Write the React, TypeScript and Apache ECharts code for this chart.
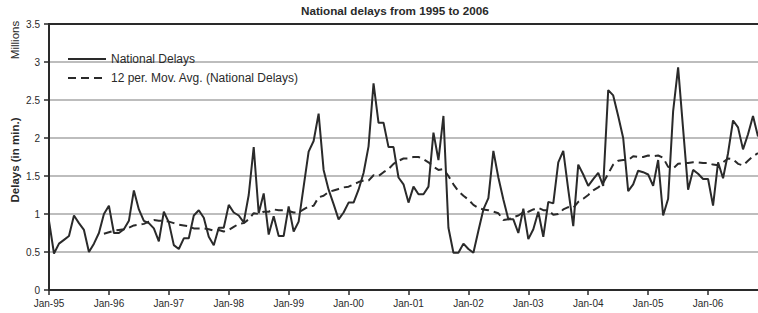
import React, { useEffect, useRef } from "react";
import * as echarts from "echarts";

const years = ["95", "96", "97", "98", "99", "00", "01", "02", "03", "04", "05", "06"];
const months = ["Jan", "Feb", "Mar", "Apr", "May", "Jun", "Jul", "Aug", "Sep", "Oct", "Nov", "Dec"];
const tickLabels = ["Jan-95", "Jan-96", "Jan-97", "Jan-98", "Jan-99", "Jan-00", "Jan-01", "Jan-02", "Jan-03", "Jan-04", "Jan-05", "Jan-06"];

// National delays (millions of minutes), monthly
const delays1995 = [0.91, 0.48, 0.61, 0.66, 0.71, 0.98, 0.88, 0.79, 0.5, 0.61, 0.75, 1.0];
const delays1996 = [1.11, 0.75, 0.75, 0.8, 0.91, 1.31, 1.06, 0.91, 0.88, 0.81, 0.64, 1.03];
const delays1997 = [0.89, 0.59, 0.54, 0.68, 0.68, 0.98, 1.05, 0.95, 0.7, 0.59, 0.82, 0.82];
const delays1998 = [1.12, 1.02, 0.98, 0.89, 1.25, 1.88, 1.01, 1.27, 0.73, 0.97, 0.71, 0.71];
const delays1999 = [1.1, 0.77, 0.9, 1.36, 1.82, 1.96, 2.32, 1.58, 1.32, 1.13, 0.93, 1.02];
const delays2000 = [1.15, 1.15, 1.32, 1.54, 1.89, 2.72, 2.2, 2.2, 1.88, 1.88, 1.48, 1.39];
const delays2001 = [1.15, 1.36, 1.26, 1.26, 1.36, 2.07, 1.71, 2.29, 0.82, 0.49, 0.49, 0.61];
const delays2002 = [0.54, 0.49, 0.78, 1.06, 1.21, 1.83, 1.48, 1.19, 0.93, 0.93, 0.75, 1.07];
const delays2003 = [0.67, 0.8, 1.03, 0.7, 1.16, 1.14, 1.68, 1.83, 1.32, 0.84, 1.65, 1.52];
const delays2004 = [1.37, 1.46, 1.54, 1.37, 2.63, 2.56, 2.29, 2.0, 1.3, 1.39, 1.57, 1.55];
const delays2005 = [1.52, 1.37, 1.71, 0.98, 1.2, 2.35, 2.93, 2.12, 1.32, 1.58, 1.53, 1.46];
const delays2006 = [1.46, 1.11, 1.68, 1.47, 1.8, 2.23, 2.14, 1.85, 2.05, 2.29, 2.02];

// 12 per. moving average
const avg1995 = [null, null, null, null, null, null, null, null, null, null, null, 0.74];
const avg1996 = [0.76, 0.78, 0.79, 0.8, 0.82, 0.85, 0.86, 0.87, 0.9, 0.92, 0.91, 0.91];
const avg1997 = [0.9, 0.88, 0.86, 0.85, 0.84, 0.81, 0.81, 0.81, 0.8, 0.78, 0.79, 0.77];
const avg1998 = [0.79, 0.83, 0.87, 0.88, 0.93, 1.01, 1.0, 1.03, 1.03, 1.06, 1.05, 1.05];
const avg1999 = [1.04, 1.02, 1.02, 1.06, 1.1, 1.11, 1.22, 1.24, 1.29, 1.31, 1.33, 1.35];
const avg2000 = [1.36, 1.39, 1.42, 1.44, 1.44, 1.51, 1.5, 1.55, 1.59, 1.66, 1.7, 1.73];
const avg2001 = [1.73, 1.75, 1.75, 1.72, 1.68, 1.62, 1.58, 1.59, 1.5, 1.39, 1.3, 1.24];
const avg2002 = [1.19, 1.12, 1.08, 1.06, 1.05, 1.03, 1.01, 0.92, 0.93, 0.96, 0.98, 1.02];
const avg2003 = [1.03, 1.06, 1.08, 1.05, 1.05, 0.99, 1.0, 1.06, 1.09, 1.08, 1.16, 1.2];
const avg2004 = [1.25, 1.31, 1.35, 1.41, 1.53, 1.65, 1.7, 1.71, 1.71, 1.76, 1.75, 1.75];
const avg2005 = [1.77, 1.76, 1.77, 1.74, 1.62, 1.6, 1.66, 1.67, 1.67, 1.68, 1.68, 1.67];
const avg2006 = [1.67, 1.65, 1.64, 1.68, 1.73, 1.72, 1.66, 1.64, 1.7, 1.76, 1.8];

const delays = [
  ...delays1995, ...delays1996, ...delays1997, ...delays1998, ...delays1999, ...delays2000,
  ...delays2001, ...delays2002, ...delays2003, ...delays2004, ...delays2005, ...delays2006,
];
const movingAvg = [
  ...avg1995, ...avg1996, ...avg1997, ...avg1998, ...avg1999, ...avg2000,
  ...avg2001, ...avg2002, ...avg2003, ...avg2004, ...avg2005, ...avg2006,
];
const categories: string[] = [];
years.forEach((y) => months.forEach((m) => categories.push(m + "-" + y)));
const cats = categories.slice(0, delays.length);

const FONT = "'Liberation Sans', Arial, Helvetica, sans-serif";
const INK = "#2a2a2a";

export default function App() {
  const ref = useRef<HTMLDivElement>(null);
  useEffect(() => {
    if (!ref.current) return;
    const chart = echarts.init(ref.current, undefined, { renderer: "svg" });
    chart.setOption({
      animation: false,
      backgroundColor: "#ffffff",
      textStyle: { fontFamily: FONT },
      title: {
        text: "National delays from 1995 to 2006",
        left: 301,
        top: 4,
        padding: 0,
        textStyle: { fontFamily: FONT, fontSize: 11.7, fontWeight: "bold", color: INK },
      },
      legend: {
        orient: "vertical",
        left: 67,
        top: 53,
        padding: 0,
        itemWidth: 38,
        itemHeight: 12,
        itemGap: 7,
        itemStyle: { opacity: 0 },
        textStyle: { fontFamily: FONT, fontSize: 12, color: INK },
        data: ["National Delays", "12 per. Mov. Avg. (National Delays)"],
      },
      grid: { left: 49, right: 0, top: 24, bottom: 23, containLabel: false },
      xAxis: {
        type: "category",
        data: cats,
        boundaryGap: false,
        axisLine: { show: true, lineStyle: { color: INK, width: 2 } },
        axisTick: {
          show: true,
          length: 5,
          interval: (i: number) => i % 12 === 0,
          lineStyle: { color: INK, width: 1.5 },
        },
        axisLabel: {
          interval: (i: number) => i % 12 === 0,
          formatter: (v: string) => (tickLabels.indexOf(v) >= 0 ? v : ""),
          fontFamily: FONT,
          fontSize: 10,
          color: INK,
          margin: 8,
        },
        splitLine: { show: false },
      },
      yAxis: {
        type: "value",
        min: 0,
        max: 3.5,
        interval: 0.5,
        axisLine: { show: true, lineStyle: { color: INK, width: 2 } },
        axisTick: { show: true, length: 5, lineStyle: { color: INK, width: 1.5 } },
        axisLabel: { fontFamily: FONT, fontSize: 10, color: INK, margin: 9 },
        splitLine: { show: true, lineStyle: { color: "#bdbdbd", width: 2 } },
      },
      graphic: [
        {
          type: "line",
          shape: { x1: 48, y1: 24, x2: 758, y2: 24 },
          style: { stroke: INK, lineWidth: 2 },
          z: 10,
        },
        {
          type: "text",
          x: 15,
          y: 40,
          rotation: Math.PI / 2,
          style: {
            text: "Millions",
            font: "11.5px " + FONT,
            fill: INK,
            textAlign: "center",
            textVerticalAlign: "middle",
          },
        },
        {
          type: "text",
          x: 15,
          y: 160,
          rotation: Math.PI / 2,
          style: {
            text: "Delays (in min.)",
            font: "bold 11.5px " + FONT,
            fill: INK,
            textAlign: "center",
            textVerticalAlign: "middle",
          },
        },
      ],
      series: [
        {
          name: "National Delays",
          type: "line",
          data: delays,
          symbol: "none",
          showSymbol: false,
          lineStyle: { color: INK, width: 2 },
          itemStyle: { color: INK },
          z: 3,
        },
        {
          name: "12 per. Mov. Avg. (National Delays)",
          type: "line",
          data: movingAvg,
          symbol: "none",
          showSymbol: false,
          connectNulls: false,
          lineStyle: { color: INK, width: 2, type: [8, 5] },
          itemStyle: { color: INK },
          z: 2,
        },
      ],
    });
    return () => chart.dispose();
  }, []);
  return (
    <div
      ref={ref}
      style={{ position: "fixed", left: 0, top: 0, width: 758, height: 313, background: "#fff" }}
    />
  );
}
